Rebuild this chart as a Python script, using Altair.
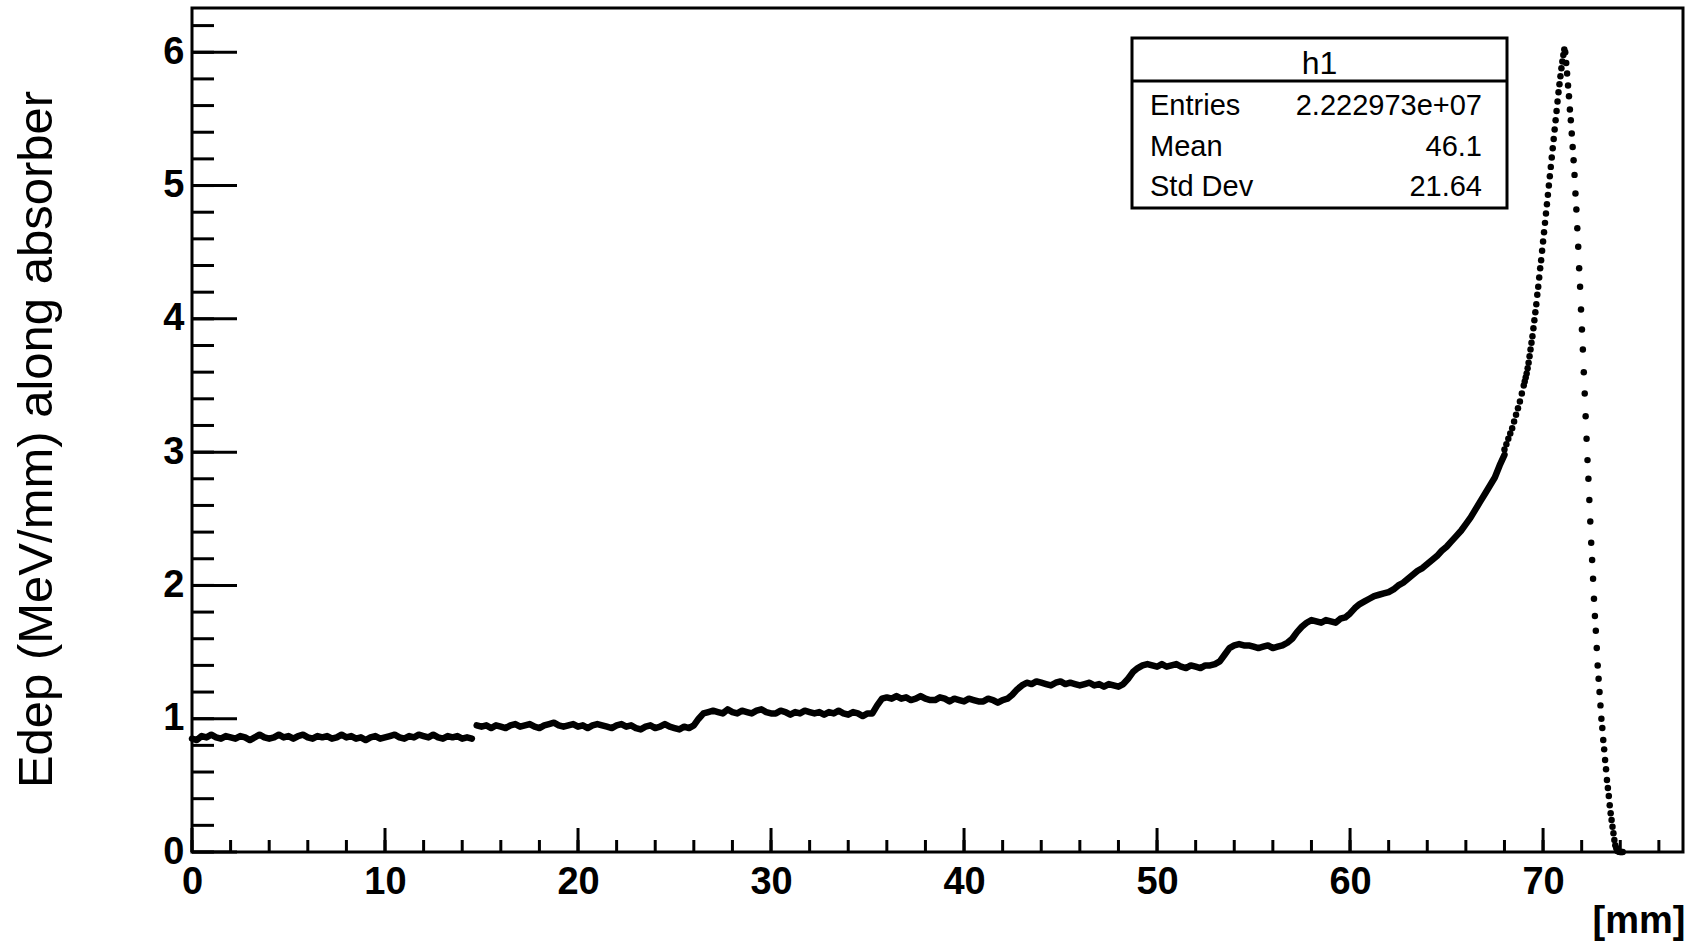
import altair as alt
import pandas as pd

# ------------------------------------------------------------------ data
# energy deposit histogram (bin centres in mm, value in MeV/mm)
BIN = 0.25

# first plateau (0 -> 14.5 mm)
seg0_start = 0.0
seg0_vals = [0.85, 0.84, 0.87, 0.86, 0.88, 0.86, 0.85, 0.87, 0.86, 0.85,
             0.87, 0.86, 0.84, 0.86, 0.88, 0.86, 0.85, 0.86, 0.88, 0.86,
             0.87, 0.85, 0.87, 0.88, 0.86, 0.85, 0.87, 0.86, 0.87, 0.85,
             0.86, 0.88, 0.86, 0.87, 0.85, 0.86, 0.84, 0.86, 0.87, 0.85,
             0.86, 0.87, 0.88, 0.86, 0.85, 0.87, 0.86, 0.88, 0.87, 0.86,
             0.88, 0.86, 0.85, 0.87, 0.86, 0.87, 0.85, 0.86, 0.85]

# rest of the dense part (14.75 -> 68.0 mm)
seg1_start = 14.75
seg1_vals = (
    [0.95, 0.94, 0.95, 0.93, 0.95, 0.94, 0.93, 0.95, 0.96, 0.94,
     0.95, 0.96, 0.94, 0.93, 0.95, 0.96, 0.97, 0.95, 0.94, 0.95,
     0.96, 0.94, 0.95, 0.93, 0.95, 0.96, 0.95, 0.94, 0.93, 0.95,
     0.96, 0.94, 0.95, 0.93, 0.92, 0.94, 0.95, 0.93, 0.94, 0.96,
     0.94, 0.93, 0.92, 0.94, 0.93, 0.95]
    + [1.00, 1.04]
    + [1.05, 1.06, 1.05, 1.04, 1.07, 1.05, 1.04, 1.06, 1.05, 1.04,
       1.06, 1.07, 1.05, 1.04, 1.04, 1.06, 1.05, 1.03, 1.05, 1.04,
       1.06, 1.05, 1.04, 1.05, 1.03, 1.05, 1.04, 1.06, 1.04, 1.03,
       1.05, 1.04, 1.02, 1.04, 1.04]
    + [1.10, 1.15]
    + [1.16, 1.15, 1.17, 1.15, 1.16, 1.14, 1.15, 1.17, 1.15, 1.14,
       1.14, 1.16, 1.15, 1.13, 1.15, 1.14, 1.13, 1.15, 1.14, 1.13,
       1.13, 1.15, 1.14, 1.12, 1.14, 1.15]
    + [1.18, 1.22, 1.25]
    + [1.27, 1.26, 1.28, 1.27, 1.26, 1.25, 1.27, 1.28, 1.26, 1.27,
       1.26, 1.25, 1.26, 1.27, 1.25, 1.26, 1.24, 1.26, 1.25, 1.24, 1.26]
    + [1.30, 1.35, 1.38, 1.40]
    + [1.41, 1.40, 1.39, 1.41, 1.39, 1.40, 1.41, 1.39, 1.38, 1.40,
       1.39, 1.38, 1.40, 1.40, 1.41, 1.43]
    + [1.48, 1.53, 1.55]
    + [1.56, 1.55, 1.55, 1.54, 1.53, 1.54, 1.55, 1.53, 1.54, 1.55, 1.57]
    + [1.60, 1.65, 1.69, 1.72]
    + [1.74, 1.73, 1.72, 1.74, 1.73, 1.72, 1.75]
    + [1.76, 1.79, 1.83, 1.86, 1.88, 1.90, 1.92, 1.93, 1.94, 1.95,
       1.97, 2.00, 2.02, 2.05, 2.08, 2.11, 2.13, 2.16, 2.19, 2.22,
       2.26, 2.29, 2.33, 2.37, 2.41, 2.46, 2.51, 2.57, 2.63, 2.69,
       2.75, 2.81, 2.90, 2.98]
)

# Bragg peak region, drawn as separate markers
rise_x = [68.0, 68.1, 68.2, 68.3, 68.4, 68.5, 68.6, 68.7, 68.8, 68.9,
          69.0, 69.05, 69.1, 69.15, 69.2, 69.25, 69.3, 69.35, 69.4, 69.45,
          69.5, 69.55, 69.6, 69.65, 69.7, 69.75, 69.8, 69.85, 69.9, 69.95,
          70.0, 70.05, 70.1, 70.15, 70.2, 70.25, 70.3, 70.35, 70.4, 70.45,
          70.5, 70.55, 70.6, 70.65, 70.7, 70.75, 70.8, 70.85, 70.9, 70.95,
          71.0, 71.05, 71.1]
rise_y = [3.02, 3.06, 3.10, 3.14, 3.18, 3.23, 3.28, 3.33, 3.38, 3.44,
          3.50, 3.53, 3.56, 3.59, 3.63, 3.67, 3.72, 3.77, 3.82, 3.87,
          3.93, 3.99, 4.05, 4.11, 4.18, 4.24, 4.31, 4.38, 4.44, 4.51,
          4.58, 4.65, 4.72, 4.79, 4.86, 4.93, 5.00, 5.07, 5.14, 5.21,
          5.28, 5.35, 5.42, 5.49, 5.56, 5.63, 5.70, 5.76, 5.82, 5.88,
          5.93, 5.98, 6.02]

fall_start = 71.15
fall_bin = 0.048
fall_y = [6.00, 5.92, 5.84, 5.75, 5.67, 5.57, 5.49, 5.39, 5.29, 5.19,
          5.08, 4.94, 4.82, 4.68, 4.54, 4.38, 4.24, 4.07, 3.92, 3.77,
          3.60, 3.44, 3.27, 3.10, 2.94, 2.80, 2.64, 2.48, 2.32, 2.19,
          2.05, 1.90, 1.77, 1.66, 1.53, 1.40, 1.30, 1.20, 1.10, 1.00,
          0.93, 0.84, 0.77, 0.69, 0.62, 0.54, 0.48, 0.42, 0.35, 0.29,
          0.24, 0.19, 0.14, 0.09, 0.05, 0.03, 0.01, 0.005, 0.002, 0.0,
          0.0, 0.0, 0.0]

# axes
x_label_vals = [0, 10, 20, 30, 40, 50, 60, 70]
y_label_vals = [0, 1, 2, 3, 4, 5, 6]
x_minor_ticks = [0, 2, 4, 6, 8, 10, 12, 14, 16, 18, 20, 22, 24, 26, 28, 30, 32, 34,
                 36, 38, 40, 42, 44, 46, 48, 50, 52, 54, 56, 58, 60, 62, 64, 66,
                 68, 70, 72, 74, 76]
y_minor_ticks = [0, 0.2, 0.4, 0.6, 0.8, 1.0, 1.2, 1.4, 1.6, 1.8, 2.0, 2.2, 2.4, 2.6,
                 2.8, 3.0, 3.2, 3.4, 3.6, 3.8, 4.0, 4.2, 4.4, 4.6, 4.8, 5.0, 5.2,
                 5.4, 5.6, 5.8, 6.0, 6.2]

# statistics box
stat_title = "h1"
stat_names = ["Entries", "Mean", "Std Dev"]
stat_values = ["2.222973e+07", "46.1", "21.64"]

# ------------------------------------------------------------------ tables
rows = []
for i, v in enumerate(seg0_vals):
    rows.append({"x": seg0_start + BIN * i, "y": v, "seg": "a"})
for i, v in enumerate(seg1_vals):
    rows.append({"x": seg1_start + BIN * i, "y": v, "seg": "b"})
dense_df = pd.DataFrame(rows)

peak_rows = [{"x": x, "y": y} for x, y in zip(rise_x, rise_y)]
peak_rows += [{"x": fall_start + fall_bin * i, "y": v} for i, v in enumerate(fall_y)]
peak_df = pd.DataFrame(peak_rows)

xt_minor = pd.DataFrame({"x": x_minor_ticks})
xt_major = pd.DataFrame({"x": x_label_vals})
yt_minor = pd.DataFrame({"y": y_minor_ticks})
yt_major = pd.DataFrame({"y": y_label_vals})

# ------------------------------------------------------------------ chart
W, H = 1491, 844
FONT = "Liberation Sans"

xs = alt.Scale(domain=[0, 77.25], nice=False, zero=False)
ys = alt.Scale(domain=[0, 6.332], nice=False, zero=False)

x_axis = alt.Axis(values=x_label_vals, format="d", ticks=False, domain=False, grid=False,
                  labelFont=FONT, labelFontSize=38, labelFontWeight="bold", labelColor="black",
                  labelPadding=11, labelFlush=False, labelOverlap=False,
                  title="[mm]", titleFont=FONT, titleFontSize=38, titleFontWeight="bold",
                  titleColor="black", titleX=W + 2, titleY=80, titleAlign="right",
                  titleBaseline="alphabetic", titleAnchor="end")
y_axis = alt.Axis(values=y_label_vals, format="d", ticks=False, domain=False, grid=False,
                  labelFont=FONT, labelFontSize=38, labelFontWeight="bold", labelColor="black",
                  labelPadding=8, labelFlush=False, labelOverlap=False,
                  title="Edep (MeV/mm) along absorber", titleFont=FONT, titleFontSize=49,
                  titleFontWeight="normal", titleColor="black", titleX=-141, titleY=431,
                  titleAngle=-90, titleAlign="center", titleBaseline="alphabetic")

X = alt.X("x:Q", scale=xs, axis=x_axis)
Y = alt.Y("y:Q", scale=ys, axis=y_axis)

line = alt.Chart(dense_df).mark_line(
    color="black", strokeWidth=6.5, strokeJoin="round", strokeCap="round"
).encode(x=X, y=Y, detail="seg:N")

dots = alt.Chart(peak_df).mark_circle(color="black", opacity=1, size=42).encode(x=X, y=Y)

tick_style = dict(color="black", strokeWidth=3, strokeCap="butt")
xt1 = alt.Chart(xt_minor).mark_rule(**tick_style).encode(
    x=X, y=alt.value(H), y2=alt.value(H - 12))
xt2 = alt.Chart(xt_major).mark_rule(**tick_style).encode(
    x=X, y=alt.value(H), y2=alt.value(H - 24))
yt1 = alt.Chart(yt_minor).mark_rule(**tick_style).encode(
    y=Y, x=alt.value(0), x2=alt.value(22))
yt2 = alt.Chart(yt_major).mark_rule(**tick_style).encode(
    y=Y, x=alt.value(0), x2=alt.value(45))

# stats box (pixel placement like a legend)
BX0, BX1, BY0, BY1, BYH = 940, 1315, 30, 200, 73
one = pd.DataFrame({"t": [stat_title]})
box = alt.Chart(one).mark_rect(fill="white", stroke="black", strokeWidth=3).encode(
    x=alt.value(BX0), x2=alt.value(BX1), y=alt.value(BY0), y2=alt.value(BY1))
sep = alt.Chart(one).mark_rule(color="black", strokeWidth=3).encode(
    x=alt.value(BX0), x2=alt.value(BX1), y=alt.value(BYH))
head = alt.Chart(one).mark_text(font=FONT, fontSize=32, color="black", align="center",
                                baseline="alphabetic").encode(
    text="t:N", x=alt.value((BX0 + BX1) / 2), y=alt.value(66))

stat_layers = []
row_base = [107, 147.5, 188]
for i, (n, v) in enumerate(zip(stat_names, stat_values)):
    d = pd.DataFrame({"n": [n], "v": [v]})
    stat_layers.append(alt.Chart(d).mark_text(font=FONT, fontSize=29, color="black", align="left",
                                              baseline="alphabetic").encode(
        text="n:N", x=alt.value(BX0 + 18), y=alt.value(row_base[i])))
    stat_layers.append(alt.Chart(d).mark_text(font=FONT, fontSize=29, color="black", align="right",
                                              baseline="alphabetic").encode(
        text="v:N", x=alt.value(BX1 - 25), y=alt.value(row_base[i])))

chart = alt.layer(line, dots, xt1, xt2, yt1, yt2, box, sep, head, *stat_layers).properties(
    width=W, height=H,
    padding={"left": 192, "top": 8, "right": 5, "bottom": 91},
    autosize=alt.AutoSizeParams(type="none"),
    background="white",
).configure_view(stroke="black", strokeWidth=3)

chart.save("out.html", embed_options={"renderer": "svg", "actions": False})
